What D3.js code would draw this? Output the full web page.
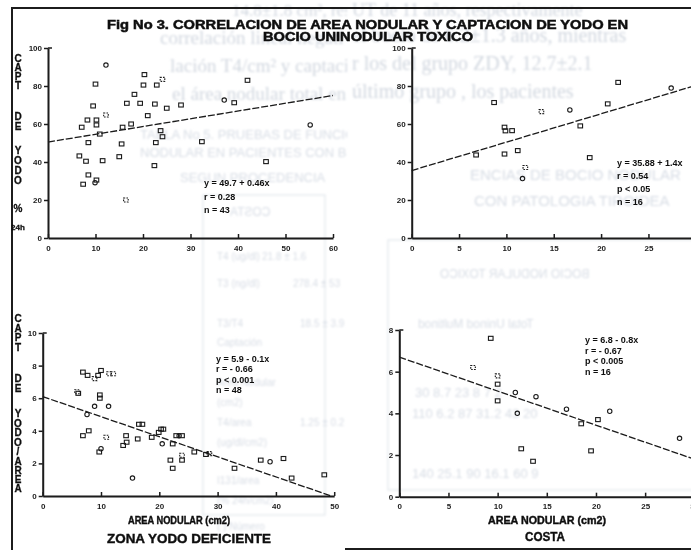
<!DOCTYPE html>
<html>
<head>
<meta charset="utf-8">
<script src="https://cdn.jsdelivr.net/npm/d3@7"></script>
<style>
  body { margin: 0; background: #fff; }
  svg { display: block; }
  .tick text { font-family: "Liberation Sans", Arial, sans-serif; font-weight: bold; font-size: 8px; fill: #1c1c1c; }
  .ghost { font-family: "Liberation Serif", serif; fill: #d2d8e0; }
  .ghost.sans { font-family: "Liberation Sans", sans-serif; fill: #d8dde5; }
</style>
</head>
<body>
<div id="chart"></div>
<script>
// top left: captacion de yodo vs area nodular (bocio uninodular toxico, zona yodo deficiente)
const tlX = [12.2, 10.0, 20.3, 20.1, 22.9, 24.1, 42.0, 18.2, 16.6, 19.4, 22.5, 25.0, 28.0, 37.1, 39.2,
  9.5, 12.2, 8.3, 10.2, 7.1, 10.2, 21.0, 15.7, 17.5, 10.9, 23.7, 24.1, 8.5, 15.5, 22.7, 32.4, 55.2,
  6.6, 8.0, 11.5, 15.0, 22.4, 45.9, 8.5, 10.2, 9.9, 7.4, 16.4];
const tlY = [91, 81, 86, 80.5, 80.5, 83.5, 83, 75.6, 70.9, 70.9, 70.5, 68.3, 70, 72.6, 71.2,
  69.5, 64.7, 62.1, 62.1, 58.3, 59.5, 64.4, 58.3, 60, 54.7, 56.5, 53.3, 50.2, 49.5, 50.2, 50.7, 59.5,
  43.2, 40.4, 40.7, 42.8, 38.1, 40.2, 33.2, 30.5, 29.1, 28.3, 20];
const tlShape = ["c", "s", "s", "s", "s", "b", "s", "s", "s", "s", "s", "s", "s", "c", "s",
  "s", "b", "s", "s", "s", "s", "s", "s", "s", "s", "s", "s", "s", "s", "s", "s", "c",
  "s", "s", "s", "s", "s", "s", "s", "s", "c", "s", "b"];
const tlFit = [[0, 50.5], [60, 75]];
const tlStats = ["y = 49.7 + 0.46x", "r = 0.28", "n = 43"];

// top right: costa
const trX = [21.8, 27.4, 8.7, 13.7, 16.7, 20.7, 9.8, 9.9, 10.6, 17.8, 6.8, 9.8, 11.2, 12.0, 18.8, 11.7];
const trY = [81.9, 78.9, 71.3, 66.5, 67.4, 70.6, 58.3, 56.4, 56.5, 59.0, 43.7, 44.2, 46.0, 37.1, 42.3, 31.3];
const trShape = ["s", "c", "s", "b", "c", "s", "s", "s", "s", "s", "s", "s", "s", "b", "s", "c"];
const trFit = [[0, 35.5], [30, 80.3]];
const trStats = ["y = 35.88 + 1.4x", "r = 0.54", "p < 0.05", "n = 16"];

// bottom left: captacion / area, zona yodo deficiente
const blX = [6.9, 7.7, 8.9, 10.0, 11.4, 9.5, 12.1, 5.9, 9.8, 9.8, 8.9, 11.3, 7.6, 6.9, 7.9, 10.9,
  10.0, 9.7, 14.3, 14.4, 13.8, 16.5, 17.1, 16.3, 18.7, 20.3, 19.9, 20.7, 20.5, 22.3, 22.9, 23.4,
  23.9, 21.9, 22.3, 23.9, 23.9, 26.0, 28.0, 28.6, 15.4, 32.9, 37.4, 39.0, 41.3, 42.7, 48.3, 6.1];
const blY = [7.6, 7.4, 7.2, 7.7, 7.5, 7.4, 7.5, 6.4, 6.2, 6.0, 5.5, 5.5, 5.0, 3.7, 4.0, 3.6,
  2.9, 2.7, 3.7, 3.3, 3.1, 4.4, 4.4, 3.5, 3.6, 4.1, 3.9, 4.1, 3.2, 3.2, 3.7, 3.7,
  3.7, 2.2, 1.7, 2.2, 2.5, 2.7, 2.55, 2.6, 1.1, 1.7, 2.2, 2.1, 2.3, 1.1, 1.3, 6.3];
const blShape = ["s", "s", "b", "s", "b", "s", "b", "b", "s", "s", "c", "c", "c", "s", "s", "b",
  "c", "s", "s", "s", "s", "s", "s", "s", "s", "s", "s", "s", "c", "s", "s", "c",
  "s", "s", "s", "s", "b", "s", "s", "b", "c", "s", "s", "c", "s", "s", "s", "s"];
const blFit = [[0, 6.1], [49.5, 0]];
const blStats = ["y = 5.9 - 0.1x", "r = - 0.66", "p < 0.001", "n = 48"];

// bottom right: captacion / area, costa
const brX = [9.3, 7.5, 10.0, 10.0, 10.0, 11.8, 13.9, 12.0, 17.0, 18.5, 20.2, 21.4, 12.4, 13.6, 19.5, 28.5];
const brY = [7.6, 6.2, 5.8, 5.4, 4.6, 5.0, 4.8, 4.0, 4.2, 3.5, 3.7, 4.1, 2.3, 1.7, 2.2, 2.8];
const brShape = ["s", "b", "b", "s", "s", "c", "c", "c", "c", "s", "s", "c", "s", "s", "s", "c"];
const brFit = [[0, 6.7], [30, 1.8]];
const brStats = ["y = 6.8 - 0.8x", "r = - 0.67", "p < 0.005", "n = 16"];

const titleLines = ["Fig No 3. CORRELACION DE AREA NODULAR Y CAPTACION DE YODO EN", "BOCIO UNINODULAR TOXICO"];
const yTitleTop = ["C", "A", "P", "T", "D", "E", "Y", "O", "D", "O", "%", "24h"];
const yTitleBottom = ["C", "A", "P", "T", "D", "E", "Y", "O", "D", "O", "/", "A", "R", "E", "A"];

// print from the other side of the sheet showing through the scan
// [text, x, y, size, family, mirrored, column]
const ghostText = [
  ["14.8\u00b11.8 cm\u00b2, respectivamente", 232, 16, 17, "", false, "L"],
  ["correlaci\u00f3n lineal negativa sig", 160, 44, 19, "", false, "L"],
  ["laci\u00f3n T4/cm\u00b2 y captaci\u00f3n de", 170, 72, 19, "", false, "L"],
  ["el \u00e1rea nodular total en los ca", 172, 100, 19, "", false, "L"],
  ["UT de 11 a\u00f1os, respectivamente", 352, 16, 18, "", false, "R"],
  ["el bocio de 6.2\u00b11.3 a\u00f1os, mientras", 352, 42, 20, "", false, "R"],
  ["r los del grupo ZDY, 12.7\u00b12.1", 352, 70, 20, "", false, "R"],
  ["\u00faltimo grupo , los pacientes", 352, 98, 20, "", false, "R"],
  ["TABLA No 5. PRUEBAS DE FUNCION", 140, 139, 13, "sans", false, "L"],
  ["NODULAR EN PACIENTES CON BOCIO", 140, 157, 13, "sans", false, "L"],
  ["SEGUN PROCEDENCIA", 180, 182, 13, "sans", false, "L"],
  ["ENCIAS DE BOCIO NODULAR", 470, 180, 15, "sans", false, "R"],
  ["CON PATOLOGIA TIROIDEA", 474, 206, 15, "sans", false, "R"],
  ["COSTA", 230, 216, 12, "sans", true, "L"],
  ["T4 (ug/dl)", 217, 260, 10, "sans", false, "L"],
  ["21.8 \u00b1 1.6", 262, 260, 10, "sans", false, "L"],
  ["T3 (ng/dl)", 217, 287, 10, "sans", false, "L"],
  ["278.4 \u00b1 53", 293, 287, 10, "sans", false, "L"],
  ["T3/T4", 217, 327, 10, "sans", false, "L"],
  ["18.5 \u00b1 3.9", 300, 327, 10, "sans", false, "L"],
  ["Captaci\u00f3n", 217, 346, 10, "sans", false, "L"],
  ["Area Nodular", 217, 386, 10, "sans", false, "L"],
  ["(cm2)", 217, 406, 10, "sans", false, "L"],
  ["T4/area", 217, 426, 10, "sans", false, "L"],
  ["1.25 \u00b1 0.2", 300, 426, 10, "sans", false, "L"],
  ["(ug/dl/cm2)", 217, 446, 10, "sans", false, "L"],
  ["I131/area", 217, 484, 10, "sans", false, "L"],
  ["(% 24h/cm2)", 217, 504, 10, "sans", false, "L"],
  ["( ) N\u00famero", 217, 530, 10, "sans", false, "L"],
  ["BOCIO NODULAR TOXICO", 440, 278, 12, "sans", true, "R"],
  ["Total        Uninod       Multinod", 418, 328, 12, "sans", true, "R"],
  ["30     8.7    23     8      7      2", 415, 397, 13, "sans", false, "R"],
  ["110   6.2    87   31.2    43    20", 412, 418, 13, "sans", false, "R"],
  ["140   25.1   90   16.1    60     9", 412, 478, 13, "sans", false, "R"]
];

const W = 691, H = 550;

const svg = d3.select("#chart")
  .append("svg")
  .attr("width", W)
  .attr("height", H)
  .style("background", "#fff");

const defs = svg.append("defs");
defs.append("filter").attr("id", "scan")
  .append("feGaussianBlur").attr("stdDeviation", 0.35);
defs.append("filter").attr("id", "ghostblur")
  .append("feGaussianBlur").attr("stdDeviation", 0.8);
defs.append("clipPath").attr("id", "colL")
  .append("rect").attr("x", 100).attr("y", 0).attr("width", 247).attr("height", H);
defs.append("clipPath").attr("id", "colR")
  .append("rect").attr("x", 349).attr("y", 0).attr("width", W - 349).attr("height", H);

/**
 * faint show-through text and table lines
 */
const ghost = svg.append("g").attr("filter", "url(#ghostblur)");
ghost.append("rect").attr("x", 203).attr("y", 195).attr("width", 122).attr("height", 320)
  .attr("fill", "none").attr("stroke", "#e2e6ec").attr("stroke-width", 1.2);
ghost.append("rect").attr("x", 388).attr("y", 240).attr("width", 320).attr("height", 250)
  .attr("fill", "none").attr("stroke", "#e2e6ec").attr("stroke-width", 1.2);

["L", "R"].forEach(col => {
  ghost.append("g")
    .attr("clip-path", `url(#col${col})`)
    .selectAll("text")
    .data(ghostText.filter(d => d[6] === col))
    .enter()
    .append("text")
    .attr("class", d => "ghost " + d[4])
    .attr("font-size", d => d[3])
    .attr("transform", d => d[5]
      ? `translate(${d[1]},${d[2]}) scale(-1,1)`
      : `translate(${d[1]},${d[2]})`)
    .attr("text-anchor", d => d[5] ? "end" : "start")
    .text(d => d[0]);
});

const page = svg.append("g").attr("filter", "url(#scan)");

// page frame
page.append("line").attr("x1", 11).attr("x2", W).attr("y1", 8).attr("y2", 8)
  .attr("stroke", "#1a1a1a").attr("stroke-width", 2);
page.append("line").attr("x1", 12).attr("x2", 12).attr("y1", 7).attr("y2", H)
  .attr("stroke", "#1a1a1a").attr("stroke-width", 2);
page.append("line").attr("x1", 345).attr("x2", W).attr("y1", 549).attr("y2", 549)
  .attr("stroke", "#1a1a1a").attr("stroke-width", 2);

// heading
const heading = [
  { text: titleLines[0], x: 107, y: 29, len: 521 },
  { text: titleLines[1], x: 263, y: 40.5, len: 210 }
];
page.selectAll("text.heading")
  .data(heading)
  .enter()
  .append("text")
  .attr("class", "heading")
  .attr("x", d => d.x)
  .attr("y", d => d.y)
  .attr("textLength", d => d.len)
  .attr("lengthAdjust", "spacingAndGlyphs")
  .style("font-family", "'Liberation Sans', Arial, sans-serif")
  .style("font-weight", "bold")
  .style("font-size", "12px")
  .style("fill", "#111")
  .style("stroke", "#111")
  .style("stroke-width", 0.5)
  .text(d => d.text);

/**
 * stacked single letters for the vertical axis titles
 */
const stackTitle = (g, letters, ys) => {
  g.selectAll(null)
    .data(letters)
    .enter()
    .append("text")
    .attr("x", 18)
    .attr("y", (d, i) => ys[i])
    .attr("text-anchor", "middle")
    .attr("dy", "0.35em")
    .style("font-family", "'Liberation Sans', Arial, sans-serif")
    .style("font-weight", "bold")
    .style("font-size", d => d.length > 1 ? "8px" : "10px")
    .style("fill", "#111")
    .style("stroke", "#111")
    .style("stroke-width", 0.3)
    .text(d => d);
};

stackTitle(page, yTitleTop, [58, 67, 76, 85, 116, 126, 150, 160, 170, 180, 208, 227]);
stackTitle(page, yTitleBottom, [318, 328, 337, 347, 378, 388, 413, 423, 432, 442, 451, 461, 470, 479, 488]);

/**
 * one scatter panel
 */
const scatter = (ctx, options = {}) => {
  const { xs, ys, shapes, fit, stats, xDomain, yDomain, xRange, yRange, xStep, yStep, statsAt } = options;

  const x = d3.scaleLinear().domain(xDomain).range(xRange);
  const y = d3.scaleLinear().domain(yDomain).range(yRange);
  const g = ctx.append("g");

  const xTicks = d3.range(xDomain[0], xDomain[1] + 0.001, xStep);
  const yTicks = d3.range(yDomain[0], yDomain[1] + 0.001, yStep);

  g.append("g")
    .attr("transform", `translate(0,${yRange[0]})`)
    .call(d3.axisBottom(x).tickValues(xTicks).tickSize(-4).tickSizeOuter(0).tickPadding(7))
    .call(a => a.selectAll("line, path").attr("stroke", "#1a1a1a"))
    .call(a => a.select(".domain").attr("stroke-width", 2))
    .call(a => a.selectAll(".tick line").attr("stroke-width", 1.5));

  g.append("g")
    .attr("transform", `translate(${xRange[0]},0)`)
    .call(d3.axisLeft(y).tickValues(yTicks).tickSize(4).tickSizeOuter(0).tickPadding(2))
    .call(a => a.selectAll("line, path").attr("stroke", "#1a1a1a"))
    .call(a => a.select(".domain").attr("stroke-width", 2))
    .call(a => a.selectAll(".tick line").attr("stroke-width", 1.5));

  // little cap at the top of the value axis
  g.append("line")
    .attr("x1", xRange[0]).attr("x2", xRange[0] + 4)
    .attr("y1", y(yDomain[1])).attr("y2", y(yDomain[1]))
    .attr("stroke", "#1a1a1a").attr("stroke-width", 1.5);

  // fitted line
  g.append("path")
    .datum(fit)
    .attr("d", d3.line().x(d => x(d[0])).y(d => y(d[1])))
    .attr("fill", "none")
    .attr("stroke", "#1a1a1a")
    .attr("stroke-width", 1.3)
    .attr("stroke-dasharray", "7,2");

  const pts = xs.map((v, i) => ({ x: v, y: ys[i], s: shapes[i] }));

  g.selectAll("rect.pt")
    .data(pts.filter(d => d.s !== "c"))
    .enter()
    .append("rect")
    .attr("class", "pt")
    .attr("x", d => x(d.x) - 2.3)
    .attr("y", d => y(d.y) - 2)
    .attr("width", 4.6)
    .attr("height", 4)
    .attr("fill", "none")
    .attr("stroke", "#1a1a1a")
    .attr("stroke-width", 1.1)
    .attr("stroke-dasharray", d => d.s === "b" ? "1.6,1.2" : null);

  g.selectAll("circle.pt")
    .data(pts.filter(d => d.s === "c"))
    .enter()
    .append("circle")
    .attr("class", "pt")
    .attr("cx", d => x(d.x))
    .attr("cy", d => y(d.y))
    .attr("r", 2.2)
    .attr("fill", "none")
    .attr("stroke", "#1a1a1a")
    .attr("stroke-width", 1.1);

  g.selectAll("text.stat")
    .data(stats)
    .enter()
    .append("text")
    .attr("class", "stat")
    .attr("x", statsAt[0])
    .attr("y", (d, i) => statsAt[1] + i * statsAt[2])
    .attr("dy", "0.35em")
    .style("font-family", "'Liberation Sans', Arial, sans-serif")
    .style("font-weight", "bold")
    .style("font-size", "9px")
    .style("fill", "#111")
    .text(d => d);

  return g;
};

scatter(page, {
  xs: tlX, ys: tlY, shapes: tlShape, fit: tlFit, stats: tlStats,
  xDomain: [0, 60], yDomain: [0, 100], xRange: [48, 333], yRange: [238, 48],
  xStep: 10, yStep: 20, statsAt: [204, 183, 13.5]
});

scatter(page, {
  xs: trX, ys: trY, shapes: trShape, fit: trFit, stats: trStats,
  xDomain: [0, 30], yDomain: [0, 100], xRange: [411.7, 695.8], yRange: [238, 48],
  xStep: 5, yStep: 20, statsAt: [617, 163, 13]
});

scatter(page, {
  xs: blX, ys: blY, shapes: blShape, fit: blFit, stats: blStats,
  xDomain: [0, 50], yDomain: [0, 10], xRange: [42.7, 334.2], yRange: [496, 333],
  xStep: 10, yStep: 2, statsAt: [216, 359, 10.3]
});

scatter(page, {
  xs: brX, ys: brY, shapes: brShape, fit: brFit, stats: brStats,
  xDomain: [0, 30], yDomain: [0, 8], xRange: [399.3, 694.3], yRange: [496.7, 330],
  xStep: 5, yStep: 2, statsAt: [585, 340, 10.5]
});

// axis captions under the bottom panels
const captions = [
  { text: "AREA NODULAR (cm2)", x: 179, y: 524, size: 10, len: 102 },
  { text: "ZONA YODO DEFICIENTE", x: 189, y: 543, size: 12.5, len: 164 },
  { text: "AREA NODULAR (cm2)", x: 547, y: 524, size: 10, len: 118 },
  { text: "COSTA", x: 545, y: 541, size: 12.5, len: 40 }
];
page.selectAll("text.caption")
  .data(captions)
  .enter()
  .append("text")
  .attr("class", "caption")
  .attr("x", d => d.x)
  .attr("y", d => d.y)
  .attr("text-anchor", "middle")
  .attr("textLength", d => d.len)
  .attr("lengthAdjust", "spacingAndGlyphs")
  .style("font-family", "'Liberation Sans', Arial, sans-serif")
  .style("font-weight", "bold")
  .style("font-size", d => d.size + "px")
  .style("fill", "#111")
  .style("stroke", "#111")
  .style("stroke-width", 0.4)
  .text(d => d.text);
</script>
</body>
</html>
